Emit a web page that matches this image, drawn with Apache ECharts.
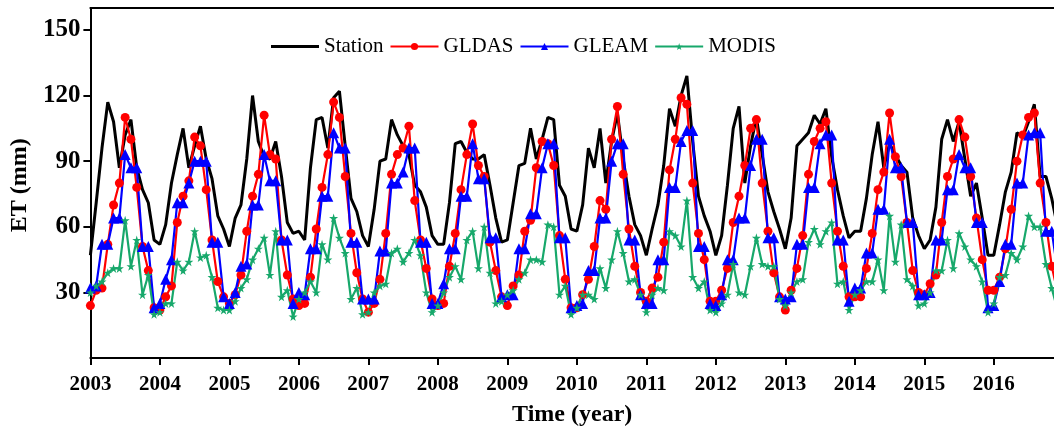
<!DOCTYPE html>
<html>
<head>
<meta charset="utf-8">
<script src="https://cdn.jsdelivr.net/npm/echarts@6/dist/echarts.min.js"></script>
<style>
  html, body { margin: 0; padding: 0; background: #fff; }
  #chart { width: 1054px; height: 432px; }
</style>
</head>
<body>
<div id="chart"></div>
<script>
// 月值 ET (mm), 2003-01 .. 2016-12, 每行一年
const startYear = 2003;
const yearTicks = [2003, 2004, 2005, 2006, 2007, 2008, 2009, 2010, 2011, 2012, 2013, 2014, 2015, 2016];
const etTicks = [30, 60, 90, 120, 150];

const station = [
  47, 71, 96, 117, 108, 87, 102, 109, 87, 77, 71, 54,
  52, 61, 80, 93, 105, 87, 97, 106, 91, 82, 65, 59,
  51, 64, 70, 91, 120, 99, 92, 91, 99, 83, 62, 57,
  58, 54, 87, 109, 110, 96, 119, 122, 97, 73, 67, 56,
  51, 68, 90, 91, 109, 102, 97, 93, 79, 76, 69, 56,
  52, 52, 71, 98, 99, 94, 91, 91, 93, 79, 64, 53,
  54, 71, 88, 89, 105, 91, 100, 110, 109, 79, 74, 59,
  58, 70, 96, 87, 105, 80, 99, 112, 91, 74, 61, 56,
  47, 59, 70, 88, 114, 106, 120, 129, 99, 74, 65, 58,
  47, 56, 79, 105, 115, 80, 97, 110, 93, 76, 67, 59,
  50, 64, 97, 100, 103, 111, 107, 114, 92, 77, 65, 55,
  58, 58, 73, 93, 108, 87, 98, 93, 88, 85, 64, 56,
  50, 54, 69, 100, 109, 99, 108, 91, 74, 80, 64, 47,
  47, 61, 76, 85, 103, 101, 108, 116, 83, 83, 73, 60,
];

const gldas = [
  24, 31, 32, 52, 70, 80, 110, 100, 78, 51, 40, 23,
  22, 28, 33, 62, 74, 81, 101, 97, 77, 54, 35, 28,
  25, 29, 38, 58, 74, 84, 111, 93, 91, 54, 38, 27,
  24, 25, 37, 59, 78, 93, 117, 110, 83, 57, 39, 27,
  21, 25, 36, 57, 84, 93, 96, 106, 72, 54, 41, 27,
  24, 25, 42, 57, 77, 93, 107, 88, 83, 53, 40, 28,
  24, 33, 38, 58, 63, 87, 99, 98, 88, 56, 36, 23,
  23, 29, 36, 51, 72, 68, 100, 115, 84, 59, 42, 30,
  26, 32, 37, 53, 86, 100, 119, 116, 80, 57, 45, 26,
  26, 31, 41, 62, 74, 88, 105, 109, 80, 58, 39, 28,
  22, 31, 41, 56, 84, 99, 105, 108, 80, 58, 42, 28,
  28, 28, 41, 57, 77, 85, 112, 92, 83, 62, 40, 30,
  29, 34, 38, 62, 83, 91, 109, 101, 83, 64, 45, 31,
  31, 37, 50, 68, 90, 102, 110, 112, 80, 62, 42, 30,
];

const gleam = [
  32, 33, 52, 52, 64, 64, 93, 87, 87, 51, 51, 23,
  25, 36, 45, 71, 71, 80, 90, 90, 90, 53, 53, 28,
  25, 30, 42, 43, 70, 70, 93, 81, 81, 54, 54, 25,
  30, 29, 50, 50, 74, 74, 103, 96, 96, 53, 53, 27,
  27, 27, 49, 49, 80, 80, 85, 96, 96, 53, 53, 25,
  25, 34, 50, 50, 74, 74, 98, 82, 82, 55, 55, 28,
  29, 29, 50, 50, 66, 66, 87, 98, 98, 55, 55, 23,
  24, 25, 40, 40, 64, 64, 90, 98, 98, 54, 54, 29,
  25, 25, 45, 45, 78, 78, 99, 104, 104, 51, 51, 25,
  24, 29, 45, 45, 64, 64, 88, 100, 100, 55, 55, 28,
  27, 28, 52, 52, 78, 78, 98, 102, 102, 54, 54, 26,
  32, 32, 48, 48, 68, 68, 100, 87, 87, 62, 62, 29,
  29, 30, 54, 54, 77, 77, 93, 87, 87, 62, 62, 23,
  24, 35, 52, 52, 80, 80, 102, 103, 103, 58, 58, 40,
];

const modis = [
  30, 33, 35, 39, 41, 41, 63, 42, 54, 29, 38, 20,
  21, 25, 25, 44, 40, 44, 58, 46, 47, 37, 23, 22,
  22, 26, 32, 36, 45, 50, 55, 38, 58, 28, 31, 19,
  27, 30, 35, 30, 52, 45, 64, 55, 48, 27, 32, 20,
  21, 30, 33, 34, 48, 50, 44, 48, 54, 47, 30, 21,
  24, 30, 37, 42, 36, 54, 58, 41, 60, 39, 25, 26,
  29, 31, 36, 39, 45, 45, 44, 61, 60, 29, 33, 20,
  23, 29, 29, 27, 41, 32, 45, 58, 48, 35, 36, 29,
  21, 29, 32, 31, 58, 56, 51, 72, 37, 32, 35, 22,
  21, 25, 29, 43, 30, 29, 42, 55, 43, 42, 42, 27,
  24, 30, 35, 36, 53, 59, 52, 58, 62, 34, 35, 22,
  29, 31, 35, 35, 45, 31, 65, 44, 61, 36, 33, 24,
  25, 30, 40, 40, 54, 41, 57, 51, 45, 42, 35, 21,
  25, 37, 38, 48, 45, 51, 65, 60, 60, 43, 32, 22,
];

const STAR = "path://M50,0 L61,35 L98,35 L68,57 L79,91 L50,70 L21,91 L32,57 L2,35 L39,35 Z";
const BAR = "path://M0,0 L48,0 L48,3 L0,3 Z";
const serif = "'Liberation Serif', 'Times New Roman', serif";
const toPairs = arr => arr.map((v, i) => [startYear + i / 12, v]);

const chart = echarts.init(document.getElementById("chart"), null, { renderer: "canvas" });

function lineSeries(name, arr, color, symbol, size, width) {
  return {
    name, type: "line", data: toPairs(arr),
    symbol, symbolSize: size, showSymbol: symbol !== "none",
    lineStyle: { color, width },
    itemStyle: { color, borderWidth: 0 },
    emphasis: { disabled: true },
    animation: false,
  };
}

chart.setOption({
  backgroundColor: "#fff",
  animation: false,
  grid: { left: 88, right: 0, top: 8, bottom: 69.5 },
  legend: {
    left: 266, top: 31,
    itemWidth: 48, itemHeight: 9, itemGap: 6,
    textStyle: { fontFamily: serif, fontSize: 21, color: "#000" },
    data: [{ name: "Station", icon: BAR }, "GLDAS", "GLEAM", "MODIS"],
  },
  xAxis: [{
    type: "value", min: 2003, max: 2016.866, interval: 1,
    name: "Time (year)", nameLocation: "middle", nameGap: 40,
    nameTextStyle: { fontFamily: serif, fontSize: 24, fontWeight: "bold", color: "#000" },
    axisLine: { lineStyle: { color: "#000", width: 2 } },
    axisTick: { length: 7, lineStyle: { color: "#000", width: 2 }, customValues: yearTicks },
    axisLabel: {
      customValues: yearTicks, margin: 12, formatter: v => String(v),
      fontFamily: serif, fontSize: 21, fontWeight: "bold", color: "#000",
    },
    splitLine: { show: false },
  }, {
    type: "value", position: "top", min: 2003, max: 2016.866,
    axisLine: { show: true, lineStyle: { color: "#000", width: 2 } },
    axisTick: { show: false }, axisLabel: { show: false }, splitLine: { show: false },
  }],
  yAxis: {
    type: "value", min: -2, max: 160,
    name: "ET (mm)", nameLocation: "middle", nameGap: 53,
    nameTextStyle: { fontFamily: serif, fontSize: 24, fontWeight: "bold", color: "#000" },
    axisLine: { show: true, lineStyle: { color: "#000", width: 2 } },
    axisTick: { show: true, length: 7, lineStyle: { color: "#000", width: 2 }, customValues: etTicks },
    axisLabel: {
      customValues: etTicks, margin: 10,
      fontFamily: serif, fontSize: 25, fontWeight: "bold", color: "#000",
    },
    splitLine: { show: false },
  },
  series: [
    lineSeries("Station", station, "#000000", "none", 0, 3),
    lineSeries("GLDAS", gldas, "#ff0000", "circle", 9, 2.2),
    lineSeries("GLEAM", gleam, "#0000ff", "triangle", 11, 2.2),
    lineSeries("MODIS", modis, "#17a86b", STAR, 9, 2.2),
  ],
});
</script>
</body>
</html>
